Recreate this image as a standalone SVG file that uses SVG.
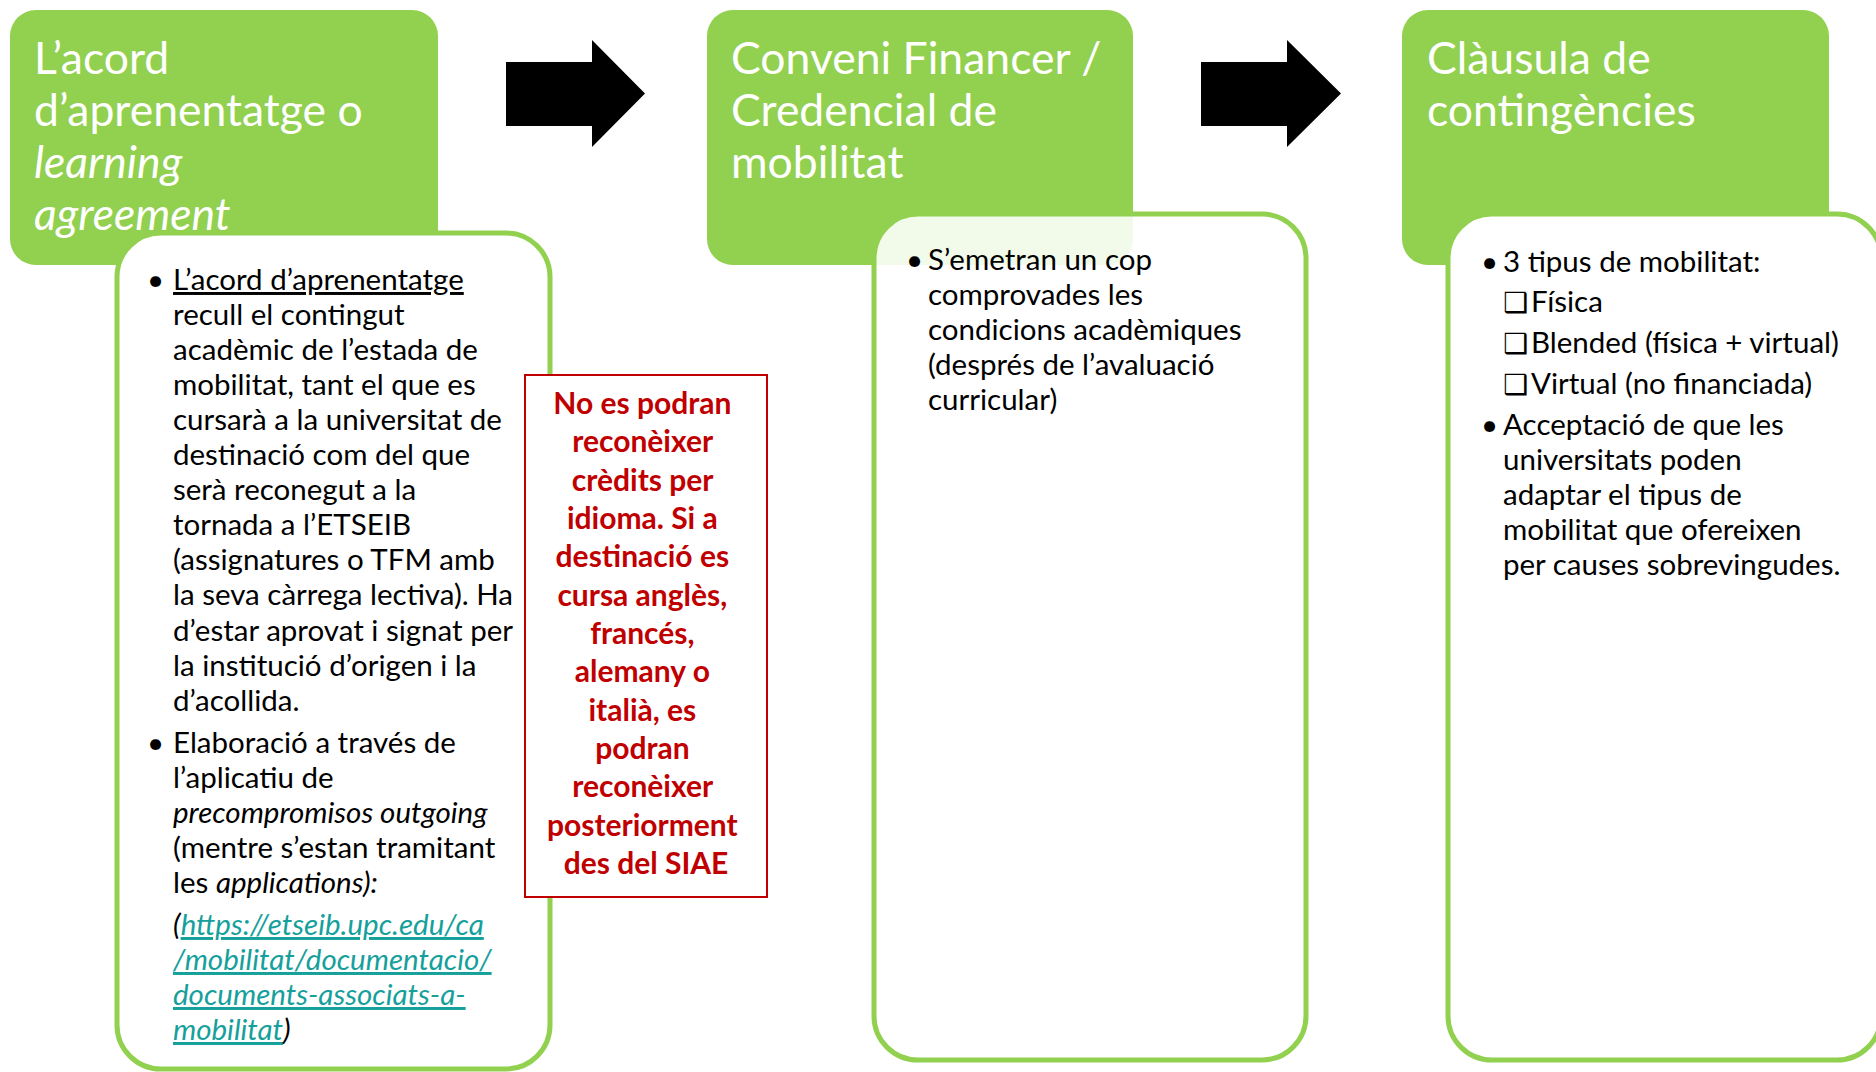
<svg xmlns="http://www.w3.org/2000/svg" width="1876" height="1072" viewBox="0 0 1876 1072">
<defs>
<style>
.hdr { fill: #92D050; }
.card { fill: #FFFFFF; stroke: #92D050; stroke-width: 5; }
.title { font-family: Lato, "Liberation Sans", sans-serif; font-size: 44.5px; fill: #FFFFFF; }
.body { font-family: Lato, "Liberation Sans", sans-serif; font-size: 29.5px; fill: #000000; }
.red { font-family: Lato, "Liberation Sans", sans-serif; font-size: 30px; font-weight: bold; fill: #C00000; text-anchor: middle; }
.link { fill: #16A09C; text-decoration: underline; font-style: italic; }
.it { font-style: italic; }
.chk { font-family: "DejaVu Sans", sans-serif; font-size: 28px; font-weight: bold; fill: #000000; }
.arrow { fill: #000000; }
</style>
</defs>
<rect width="1876" height="1072" fill="#FFFFFF"/>

<g id="connectors">
<polygon class="arrow" points="506,62 592,62 592,40 645,93.5 592,147 592,126 506,126"/>
<polygon class="arrow" points="1201,62 1287,62 1287,40 1341,93.5 1287,147 1287,126 1201,126"/>
</g>

<g id="node-acord">
<rect class="hdr" x="10" y="10" width="428" height="255" rx="26" ry="26"/>
<text class="title"><tspan x="34" y="74">L’acord</tspan><tspan x="34" y="126">d’aprenentatge o</tspan><tspan x="34" y="178" class="it">learning</tspan><tspan x="34" y="230" class="it">agreement</tspan></text>
<rect class="card" x="117" y="233" width="433" height="836" rx="44" ry="44"/>
<text class="body">
<tspan x="147" y="290">•</tspan><tspan x="173" y="290" text-decoration="underline">L’acord d’aprenentatge</tspan>
<tspan x="173" y="325">recull el contingut</tspan>
<tspan x="173" y="360">acadèmic de l’estada de</tspan>
<tspan x="173" y="395">mobilitat, tant el que es</tspan>
<tspan x="173" y="430">cursarà a la universitat de</tspan>
<tspan x="173" y="465">destinació com del que</tspan>
<tspan x="173" y="500">serà reconegut a la</tspan>
<tspan x="173" y="535">tornada a l’ETSEIB</tspan>
<tspan x="173" y="570">(assignatures o TFM amb</tspan>
<tspan x="173" y="605">la seva càrrega lectiva). Ha</tspan>
<tspan x="173" y="641">d’estar aprovat i signat per</tspan>
<tspan x="173" y="676">la institució d’origen i la</tspan>
<tspan x="173" y="711">d’acollida.</tspan>
<tspan x="147" y="753">•</tspan><tspan x="173" y="753">Elaboració a través de</tspan>
<tspan x="173" y="788">l’aplicatiu de</tspan>
<tspan x="173" y="823" class="it">precompromisos outgoing</tspan>
<tspan x="173" y="858">(mentre s’estan tramitant</tspan>
<tspan x="173" y="893">les <tspan class="it">applications):</tspan></tspan>
<tspan x="173" y="935" class="it">(</tspan><tspan class="link">https://etseib.upc.edu/ca</tspan>
<tspan x="173" y="970" class="link">/mobilitat/documentacio/</tspan>
<tspan x="173" y="1005" class="link">documents-associats-a-</tspan>
<tspan x="173" y="1040" class="link">mobilitat</tspan><tspan class="it">)</tspan>
</text>
</g>

<g id="node-avis">
<rect x="525" y="375" width="242" height="522" fill="#FFFFFF" stroke="#C00000" stroke-width="2"/>
<text class="red">
<tspan x="646" y="414">No es podran</tspan>
<tspan x="646" y="452.3">reconèixer</tspan>
<tspan x="646" y="490.7">crèdits per</tspan>
<tspan x="646" y="529">idioma. Si a</tspan>
<tspan x="646" y="567.3">destinació es</tspan>
<tspan x="646" y="605.7">cursa anglès,</tspan>
<tspan x="646" y="644">francés,</tspan>
<tspan x="646" y="682.3">alemany o</tspan>
<tspan x="646" y="720.7">italià, es</tspan>
<tspan x="646" y="759">podran</tspan>
<tspan x="646" y="797.3">reconèixer</tspan>
<tspan x="646" y="835.7">posteriorment</tspan>
<tspan x="646" y="874">des del SIAE</tspan>
</text>
</g>

<g id="node-conveni">
<rect class="hdr" x="707" y="10" width="426" height="255" rx="26" ry="26"/>
<text class="title"><tspan x="731" y="74">Conveni Financer /</tspan><tspan x="731" y="126">Credencial de</tspan><tspan x="731" y="178">mobilitat</tspan></text>
<rect class="card" x="874" y="214" width="432" height="846" rx="44" ry="44" style="fill-opacity:0.88"/>
<text class="body">
<tspan x="906" y="270">•</tspan><tspan x="928" y="270">S’emetran un cop</tspan>
<tspan x="928" y="305">comprovades les</tspan>
<tspan x="928" y="340">condicions acadèmiques</tspan>
<tspan x="928" y="375">(després de l’avaluació</tspan>
<tspan x="928" y="410">curricular)</tspan>
</text>
</g>

<g id="node-clausula">
<rect class="hdr" x="1402" y="10" width="427" height="255" rx="26" ry="26"/>
<text class="title"><tspan x="1427" y="74">Clàusula de</tspan><tspan x="1427" y="126">contingències</tspan></text>
<rect class="card" x="1448" y="214" width="433" height="846" rx="44" ry="44"/>
<text class="body">
<tspan x="1481" y="272">•</tspan><tspan x="1503" y="272">3 tipus de mobilitat:</tspan>
<tspan x="1531" y="312">Física</tspan>
<tspan x="1531" y="353">Blended (física + virtual)</tspan>
<tspan x="1531" y="394">Virtual (no financiada)</tspan>
<tspan x="1481" y="435">•</tspan><tspan x="1503" y="435">Acceptació de que les</tspan>
<tspan x="1503" y="470">universitats poden</tspan>
<tspan x="1503" y="505">adaptar el tipus de</tspan>
<tspan x="1503" y="540">mobilitat que ofereixen</tspan>
<tspan x="1503" y="575">per causes sobrevingudes.</tspan>
</text>
<text class="chk"><tspan x="1503" y="312">❑</tspan><tspan x="1503" y="353">❑</tspan><tspan x="1503" y="394">❑</tspan></text>
</g>
</svg>
